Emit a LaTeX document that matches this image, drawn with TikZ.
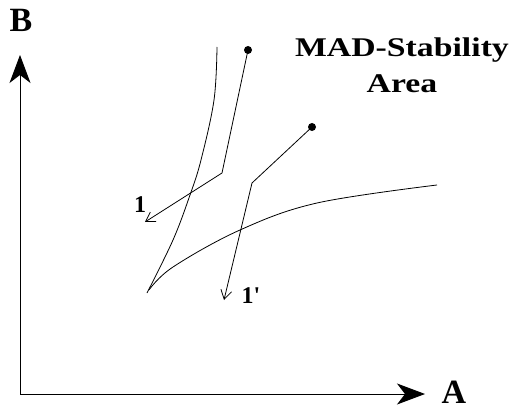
\documentclass[tikz,border=0pt]{standalone}
\usepackage{fontspec}
\setmainfont{Liberation Serif}
\usepackage{tikz}
\usetikzlibrary{positioning, arrows.meta}
\tikzset{
  axis/.style={-{Stealth[length=28pt, width=21pt, inset=8pt]}, line width=0.9pt},
  curve/.style={line width=0.8pt},
  path/.style={-{Straight Barb[length=9pt, width=11pt]}, line width=0.8pt},
  axlabel/.style={font=\fontsize{34}{38}\selectfont\bfseries, inner sep=0pt},
  steplabel/.style={font=\fontsize{24}{26}\selectfont\bfseries, inner sep=0pt},
  title/.style={font=\fontsize{27}{36}\selectfont\bfseries, align=center,
    xscale=1.25, transform shape, inner sep=0pt},
  startdot/.style={circle, fill=black, inner sep=0pt, minimum size=8pt},
}

\begin{document}
\begin{tikzpicture}[x=1pt, y=-1pt]
  \useasboundingbox (0,0) rectangle (520,412);

  % axes
  \coordinate (origin) at (20,394);
  \coordinate (btop) at (20,55);
  \coordinate (aend) at (425,394);
  \draw[axis] (origin) -- (btop);
  \draw[axis] (origin) -- (aend);
  \node[axlabel] (blabel) at (21,20) {B};
  \node[axlabel] (alabel) at (454,392) {A};

  \node[title] (area) at (402,65) {MAD-Stability\\Area};

  % stability borders
  \draw[curve] plot[smooth, tension=0.6] coordinates
    {(217,47) (214,100) (201,160) (190,195) (173,240) (147,293)};
  \draw[curve] plot[smooth, tension=0.6] coordinates
    {(149,290) (173,267) (240,230) (317,203) (437,185)};

  % trajectories
  \node[startdot] (s1) at (248,50) {};
  \coordinate (k1) at (222,173);
  \coordinate (e1) at (145,222);
  \draw[path] (s1.center) -- (k1) -- (e1);
  \node[steplabel] (l1) at (140,205) {1};

  \node[startdot] (s2) at (312,127) {};
  \coordinate (k2) at (252,183);
  \coordinate (e2) at (224,300);
  \draw[path] (s2.center) -- (k2) -- (e2);
  \node[steplabel] (l2) at (251,296) {1\textquotesingle};
\end{tikzpicture}
\end{document}
